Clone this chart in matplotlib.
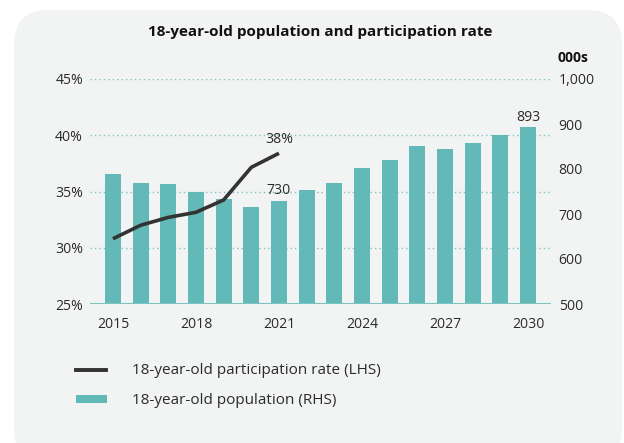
import matplotlib
matplotlib.use("Agg")
import matplotlib.pyplot as plt
from matplotlib.patches import FancyBboxPatch
from matplotlib.lines import Line2D
from matplotlib.ticker import FuncFormatter

years = list(range(2015, 2031))
population = [789, 769, 767, 750, 733, 716, 730, 753, 769, 802, 820, 851, 844, 858, 875, 893]
rate_years = [2015, 2016, 2017, 2018, 2019, 2020, 2021]
rate = [30.8, 32.0, 32.7, 33.15, 34.25, 37.15, 38.4]
xtick_years = [2015, 2018, 2021, 2024, 2027, 2030]
left_ticks = [25, 30, 35, 40, 45]
right_ticks = [500, 600, 700, 800, 900, 1000]

plt.rcParams['font.family'] = ['Open Sans', 'DejaVu Sans']

W, H = 624, 443
fig = plt.figure(figsize=(W / 100, H / 100), dpi=100)
fig.patch.set_facecolor('white')

panel = FancyBboxPatch((14 / W, -20 / H), (608) / W, (453) / H,
                       boxstyle="round,pad=0,rounding_size=0.055",
                       transform=fig.transFigure, facecolor='#f2f3f3',
                       edgecolor='none', zorder=-10, mutation_aspect=W / H)
fig.patches.append(panel)

teal = '#63b9b7'
dark = '#333333'
text_c = '#2a2a2a'
fs = 10.1

ax = fig.add_axes([90 / W, 1 - 304 / H, (551 - 90) / W, (304 - 79) / H])
ax.set_facecolor('none')
ax2 = ax.twinx()
ax.set_zorder(2)
ax2.set_zorder(1)

ax2.bar(years, population, width=0.58, color=teal, zorder=2)
ax2.set_ylim(500, 1000)
ax.set_ylim(25, 45)
ax.set_xlim(2014.17, 2030.83)

for t in left_ticks[1:]:
    ax2.axhline(500 + (t - 25) * 25, color='#7cc4c2', lw=1.0, ls=(0, (1, 2.2)), zorder=1)
ax2.axhline(500, color='#7cc4c2', lw=1.5, zorder=3)

ax.plot(rate_years, rate, color=dark, lw=2.6, solid_capstyle='butt', zorder=4)

ax.set_yticks(left_ticks)
ax.yaxis.set_major_formatter(FuncFormatter(lambda v, p: f"{v:.0f}%"))
ax2.set_yticks(right_ticks)
ax2.yaxis.set_major_formatter(FuncFormatter(lambda v, p: f"{v:,.0f}"))
ax.set_xticks(xtick_years)

for a in (ax, ax2):
    for s in a.spines.values():
        s.set_visible(False)
    a.tick_params(length=0, labelsize=fs, colors=text_c)
ax.tick_params(axis='y', pad=5)
ax2.tick_params(axis='y', pad=5.5)
ax.tick_params(axis='x', pad=9)

ax.text(2021, 38.4 + 0.55, "38%", ha='center', va='bottom', fontsize=fs, color=text_c)
ax2.text(2021, 730 + 5, "730", ha='center', va='bottom', fontsize=fs, color=text_c)
ax2.text(2030, 893 + 4, "893", ha='center', va='bottom', fontsize=fs, color=text_c)

fig.text(320 / W, 1 - 32 / H, "18-year-old population and participation rate",
         ha='center', va='center', fontsize=11, fontweight='bold', color='#111111')
fig.text(558 / W, 1 - 58 / H, "000s", ha='left', va='center', fontsize=10,
         fontweight='bold', color='#111111')

fig.add_artist(Line2D([76 / W, 106 / W], [1 - 370 / H, 1 - 370 / H], color=dark, lw=2.8,
                      transform=fig.transFigure))
fig.patches.append(FancyBboxPatch((76 / W, 1 - 403 / H), 31 / W, 8 / H, boxstyle='square,pad=0',
                                  transform=fig.transFigure, facecolor=teal, edgecolor='none'))
fig.text(132 / W, 1 - 370 / H, "18-year-old participation rate (LHS)", ha='left', va='center',
         fontsize=11, color=text_c)
fig.text(132 / W, 1 - 400 / H, "18-year-old population (RHS)", ha='left', va='center',
         fontsize=11, color=text_c)

fig.savefig('out.png', dpi=100)
